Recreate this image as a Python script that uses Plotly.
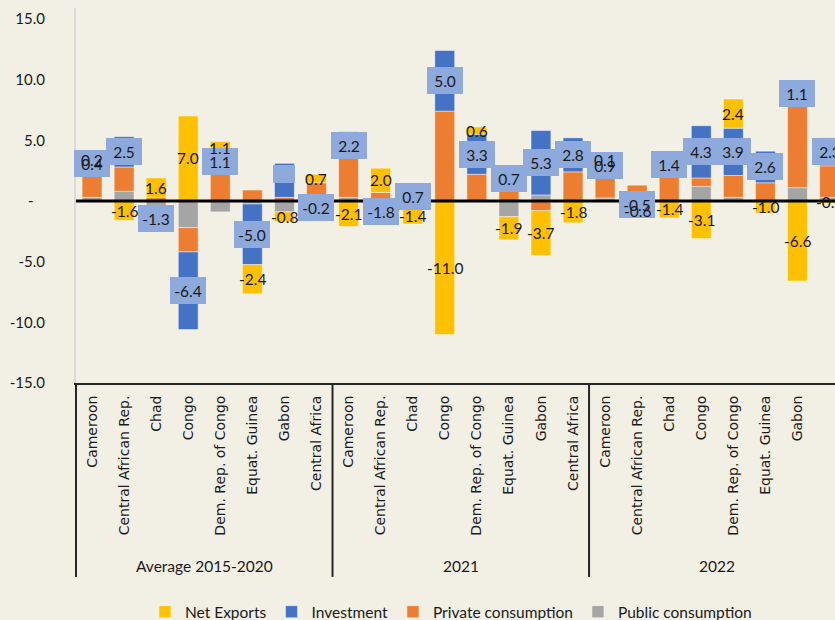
import plotly.graph_objects as go

# ---------------- data ----------------
countries = ["Cameroon", "Central African Rep.", "Chad", "Congo",
             "Dem. Rep. of Congo", "Equat. Guinea", "Gabon", "Central Africa"]
periods = ["Average 2015-2020", "2021", "2022"]

net_exports = [0.2, -1.6, 1.6, 7.0, 1.1, -2.4, -0.8, 0.7,
               -2.1, 2.0, -1.4, -11.0, 0.6, -1.9, -3.7, -1.8,
               0.1, -0.6, -1.4, -3.1, 2.4, -1.0, -6.6, -0.2]
investment = [0.4, 2.5, -1.3, -6.4, 1.1, -5.0, 2.8, -0.2,
              2.2, -1.8, 0.7, 5.0, 3.3, 0.7, 5.3, 2.8,
              0.9, -0.5, 1.4, 4.3, 3.9, 2.6, 1.1, 2.3]
private_consumption = [2.6, 2.0, 0.3, -2.0, 2.7, 0.9, 0.3, 1.5,
                       3.2, 0.7, 0.0, 7.4, 2.2, 1.5, -0.8, 2.4,
                       2.2, 1.3, 2.3, 0.7, 1.8, 1.5, 7.2, 2.6]
public_consumption = [0.3, 0.8, -0.8, -2.2, -0.9, -0.25, -0.9, -0.4,
                      0.3, 0.0, -0.5, 0.0, 0.0, -1.3, 0.5, 0.0,
                      0.25, 0.0, 0.0, 1.2, 0.3, 0.0, 1.1, 0.3]
# investment label shown (Gabon 2015-2020 label box is blank in the original)
investment_label_visible = [True] * 24
investment_label_visible[6] = False

y_tickvals = [-15, -10, -5, 0, 5, 10, 15]
y_ticktext = ["-15.0", "-10.0", "-5.0", "-\u00a0\u00a0\u00a0", "5.0", "10.0", "15.0"]

# ---------------- style ----------------
BG = "#F2EFE5"
C_NX = "#FFC000"
C_INV = "#4472C4"
C_PRIV = "#ED7D31"
C_PUB = "#A5A5A5"
BOX = "#8EA9DB"
TXT = "#1a1a1a"

n = len(countries) * len(periods)
xs = list(range(n))
cat_labels = countries * len(periods)

# stacking order from zero outward (as in the original)
stack = [("Public consumption", public_consumption, C_PUB),
         ("Private consumption", private_consumption, C_PRIV),
         ("Investment", investment, C_INV),
         ("Net Exports", net_exports, C_NX)]

fig = go.Figure()
pos = [0.0] * n
neg = [0.0] * n
centers = {}
for name, vals, col in stack:
    c = []
    for i, v in enumerate(vals):
        if v >= 0:
            c.append(pos[i] + v / 2)
            pos[i] += v
        else:
            c.append(neg[i] + v / 2)
            neg[i] += v
    centers[name] = c
    fig.add_trace(go.Bar(
        x=xs, y=vals, name=name,
        marker=dict(color=col, line=dict(width=1, color="rgba(255,255,255,0.45)")),
        hoverinfo="skip"))

annotations = []
# investment labels (boxed)
for i, v in enumerate(investment):
    if investment_label_visible[i]:
        annotations.append(dict(
            x=xs[i], y=centers["Investment"][i], xref="x", yref="y",
            text=f"{v:.1f}", showarrow=False, bgcolor=BOX,
            width=36, height=27, borderpad=0, borderwidth=0,
            font=dict(family="Lato", size=15.5, color=TXT),
            xanchor="center", yanchor="middle"))
    else:
        annotations.append(dict(
            x=xs[i], y=centers["Investment"][i] + 0.5, xref="x", yref="y",
            text="\u00a0", showarrow=False, bgcolor=BOX,
            width=22, height=18, borderpad=0, borderwidth=0,
            font=dict(family="Lato", size=12, color=TXT),
            xanchor="center", yanchor="middle"))
# net exports labels (plain)
for i, v in enumerate(net_exports):
    annotations.append(dict(
        x=xs[i], y=centers["Net Exports"][i], xref="x", yref="y",
        text=f"{v:.1f}", showarrow=False,
        font=dict(family="Lato", size=15.5, color=TXT),
        xanchor="center", yanchor="middle"))

# group labels
ng = len(countries)
for g, p in enumerate(periods):
    annotations.append(dict(
        x=g * ng + (ng - 1) / 2, y=-0.488, xref="x", yref="paper",
        text=p, showarrow=False,
        font=dict(family="Lato", size=15.5, color=TXT),
        xanchor="center", yanchor="middle"))

shapes = []
# zero line above bars
shapes.append(dict(type="line", xref="paper", yref="y", x0=0, x1=1, y0=0, y1=0,
                   line=dict(color="black", width=3), layer="above"))
# group separators
x_lo, x_hi = -0.5, 23.17
for g in range(len(periods)):
    xb = g * ng - 0.5
    shapes.append(dict(type="line", xref="paper", yref="paper",
                       x0=(xb - x_lo) / (x_hi - x_lo), x1=(xb - x_lo) / (x_hi - x_lo),
                       y0=0, y1=-0.517,
                       line=dict(color="#262626", width=2), layer="above"))

fig.update_layout(
    template="none",
    width=835, height=620,
    margin=dict(l=76, r=0, t=8, b=237, pad=0, autoexpand=False),
    paper_bgcolor=BG, plot_bgcolor=BG,
    barmode="relative", bargap=0.38,
    font=dict(family="Lato", size=15, color=TXT),
    showlegend=True,
    legend=dict(orientation="h", x=0.494, xanchor="center", y=-0.611, yanchor="middle",
                traceorder="reversed", bgcolor="rgba(0,0,0,0)",
                font=dict(family="Lato", size=15.5, color=TXT)),
    annotations=annotations,
    shapes=shapes,
    xaxis=dict(range=[x_lo, x_hi], tickmode="array", tickvals=xs, ticktext=cat_labels,
               tickangle=-90, tickfont=dict(family="DejaVu Sans", size=14, color=TXT),
               showline=True, linecolor="#262626", linewidth=2,
               showgrid=False, zeroline=False, ticks="", ticklabelstandoff=5,
               automargin=False, fixedrange=True),
    yaxis=dict(range=[-15, 15.9], tickmode="array", tickvals=y_tickvals, ticktext=y_ticktext,
               tickfont=dict(family="Lato", size=15, color=TXT),
               showline=True, linecolor="#D9D9D9", linewidth=2,
               showgrid=False, zeroline=False, ticks="", ticklabelstandoff=26,
               automargin=False, fixedrange=True),
)

page_fix = (
    "var h=document.documentElement,b=document.body;"
    "h.style.margin='0';h.style.padding='0';h.style.overflow='hidden';"
    "h.style.background='" + BG + "';"
    "b.style.margin='0';b.style.padding='0';b.style.overflow='hidden';"
    "b.style.background='" + BG + "';b.style.height='620px';"
)
fig.write_html("out.html", config={"displayModeBar": False}, post_script=page_fix)
